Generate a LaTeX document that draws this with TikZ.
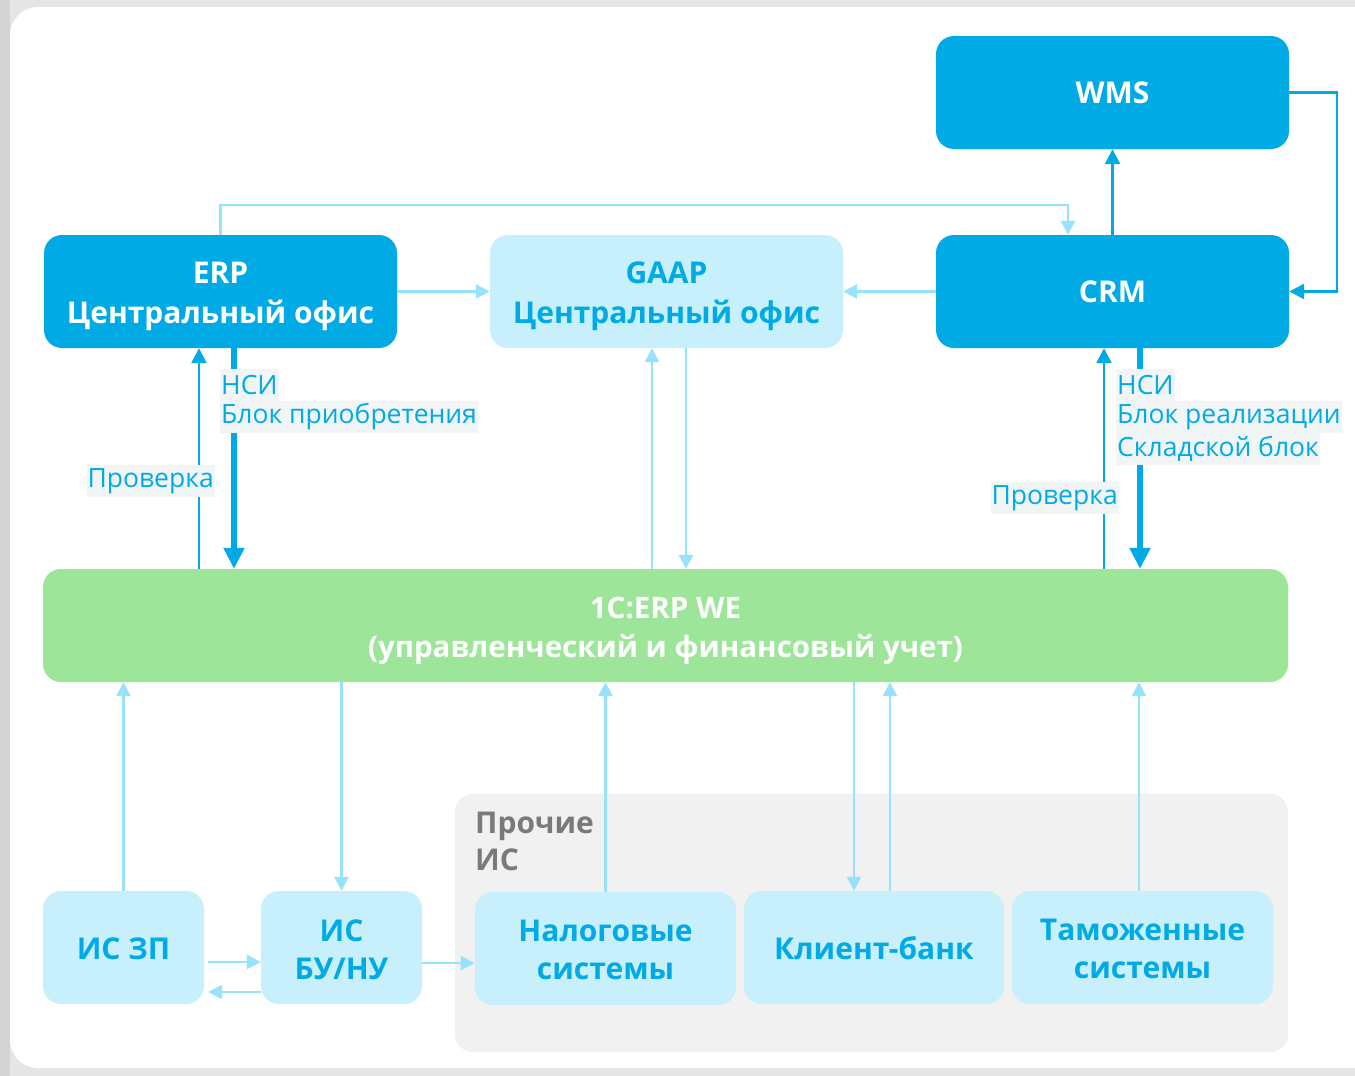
\documentclass[tikz,border=0pt]{standalone}
\usepackage{fontspec}
\setmainfont{Open Sans}
\usetikzlibrary{arrows.meta}
\definecolor{dblue}{HTML}{00AAE5}
\definecolor{lblue}{HTML}{97E2FC}
\definecolor{lfill}{HTML}{C7EFFC}
\definecolor{gfill}{HTML}{9DE699}
\definecolor{grpfill}{HTML}{F1F1F1}
\definecolor{lblbg}{HTML}{F2F5F6}
\definecolor{graytxt}{HTML}{7A7A7A}
\definecolor{outerbg}{HTML}{E5E5E5}
\definecolor{leftbg}{HTML}{D4D4D4}
\begin{document}
\begin{tikzpicture}[x=1pt,y=-1pt,
  box/.style={rounded corners=18pt, inner sep=0pt, minimum height=113pt},
  darkbox/.style={box, fill=dblue, minimum width=353pt},
  lightbox/.style={box, fill=lfill},
  btxt/.style={inner sep=0pt, align=center, font=\bfseries\fontsize{30}{40}\selectfont},
  wtxt/.style={btxt, text=white},
  ltxt/.style={btxt, text=dblue, font=\bfseries\fontsize{30}{38}\selectfont},
  larr/.style={draw=lblue, line width=2.5pt, -{Triangle[length=14pt,width=14pt]}},
  darr/.style={draw=dblue, line width=2.5pt, -{Triangle[length=15pt,width=15pt]}},
  tarr/.style={draw=dblue, line width=6pt, -{Triangle[length=21pt,width=20pt]}},
  lbl/.style={fill=lblbg, text=dblue, anchor=west, inner xsep=1pt, inner ysep=0pt,
    minimum height=32pt, font=\fontsize{26.5}{30}\selectfont}
]
\clip (0,0) rectangle (1355,1076);
\fill[outerbg] (0,0) rectangle (1355,1076);
\fill[leftbg] (0,0) rectangle (10,1076);
\fill[white, rounded corners=28pt] (10,7) rectangle (1390,1068);

% group
\node[fill=grpfill, rounded corners=18pt, minimum width=833pt, minimum height=258pt, inner sep=0pt] (grp) at (871.5,923) {};
\node[anchor=north west, text=graytxt, align=left, inner sep=0pt,
  font=\bfseries\fontsize{30}{37}\selectfont] (grplbl) at (475,812) {Прочие\\ИС};

% top boxes
\node[darkbox] (wms) at (1112.5,92.5) {};
\node[wtxt] (wmst) at (wms.center) {WMS};
\node[darkbox] (crm) at (1112.5,291.5) {};
\node[wtxt] (crmt) at (crm.center) {CRM};
\node[darkbox] (erp) at (220.5,291.5) {};
\node[wtxt] (erpt) at ([yshift=-5pt]erp.center) {ERP\\Центральный офис};
\node[lightbox, minimum width=353pt] (gaap) at (666.5,291.5) {};
\node[ltxt, font=\bfseries\fontsize{30}{40}\selectfont] (gaapt) at ([yshift=-5pt]gaap.center) {GAAP\\Центральный офис};
\node[box, fill=gfill, minimum width=1245pt] (we) at (665.5,625.5) {};
\node[wtxt, font=\bfseries\fontsize{29.5}{39}\selectfont] (wet) at ([yshift=-5pt]we.center) {1С:ERP WE\\(управленческий и финансовый учет)};

% bottom boxes
\node[lightbox, minimum width=161pt] (zp) at (123.5,947.5) {};
\node[ltxt] (zpt) at ([yshift=-1pt]zp.center) {ИС ЗП};
\node[lightbox, minimum width=161pt] (bu) at (341.5,947.5) {};
\node[ltxt] (but) at ([yshift=-2pt]bu.center) {ИС\\БУ/НУ};
\node[lightbox, minimum width=261pt] (nal) at (605.5,948.5) {};
\node[ltxt] (nalt) at ([yshift=-1pt]nal.center) {Налоговые\\системы};
\node[lightbox, minimum width=260pt] (kb) at (874,947.5) {};
\node[ltxt] (kbt) at ([yshift=-1pt]kb.center) {Клиент-банк};
\node[lightbox, minimum width=261pt] (tam) at (1142.5,947.5) {};
\node[ltxt] (tamt) at ([yshift=-1pt]tam.center) {Таможенные\\системы};

% coordinates
\coordinate (erpup) at ([xshift=-21.5pt]erp.south);
\coordinate (erpdn) at ([xshift=13.5pt]erp.south);
\coordinate (gaapup) at ([xshift=-14.5pt]gaap.south);
\coordinate (gaapdn) at ([xshift=19.5pt]gaap.south);
\coordinate (crmup) at ([xshift=-8.5pt]crm.south);
\coordinate (crmdn) at ([xshift=27.5pt]crm.south);
\coordinate (crmtop) at ([xshift=-44.5pt]crm.north);
\coordinate (kbdn) at ([xshift=-20pt]kb.north);
\coordinate (kbup) at ([xshift=16pt]kb.north);
\coordinate (tamup) at ([xshift=-3.5pt]tam.north);
\coordinate (zpr1) at ([yshift=-14.5pt,xshift=4pt]zp.east);
\coordinate (bul2) at ([yshift=-44.5pt]bu.west);
\coordinate (bur1) at ([yshift=-15.5pt]bu.east);

% connectors top
\draw[larr] (erp.north) -- ++(0,-30) -| (crmtop);
\draw[larr] (erp.east) -- (gaap.west);
\draw[larr] (crm.west) -- (gaap.east);
\draw[darr] (crm.north) -- (wms.south);
\draw[darr] (wms.east) -- ++(48,0) |- (crm.east);

% vertical connectors middle
\draw[darr] (erpup |- we.north) -- (erpup);
\draw[tarr] (erpdn) -- (erpdn |- we.north);
\draw[larr] (gaapup |- we.north) -- (gaapup);
\draw[larr] (gaapdn) -- (gaapdn |- we.north);
\draw[darr] (crmup |- we.north) -- (crmup);
\draw[tarr] (crmdn) -- (crmdn |- we.north);

% bottom connectors
\draw[larr] (zp.north) -- (zp.north |- we.south);
\draw[larr] (bu.north |- we.south) -- (bu.north);
\draw[larr] (nal.north) -- (nal.north |- we.south);
\draw[larr] (kbdn |- we.south) -- (kbdn);
\draw[larr] (kbup) -- (kbup |- we.south);
\draw[larr] (tamup) -- (tamup |- we.south);
\draw[larr] (zpr1) -- (zpr1 -| bu.west);
\draw[larr, shorten >=4pt] (bul2) -- (bul2 -| zp.east);
\draw[larr] (bur1) -- (bur1 -| nal.west);

% labels
\node[lbl] (l1a) at (220,385) {НСИ};
\node[lbl] (l1b) at (220,417) {Блок приобретения};
\node[lbl, anchor=east] (l1c) at (215,481) {Проверка};
\node[lbl] (l2a) at (1116,385) {НСИ};
\node[lbl] (l2b) at (1116,417) {Блок реализации};
\node[lbl] (l2c) at (1116,449) {Складской блок};
\node[lbl, anchor=east] (l2d) at (1119,498) {Проверка};
\end{tikzpicture}
\end{document}
